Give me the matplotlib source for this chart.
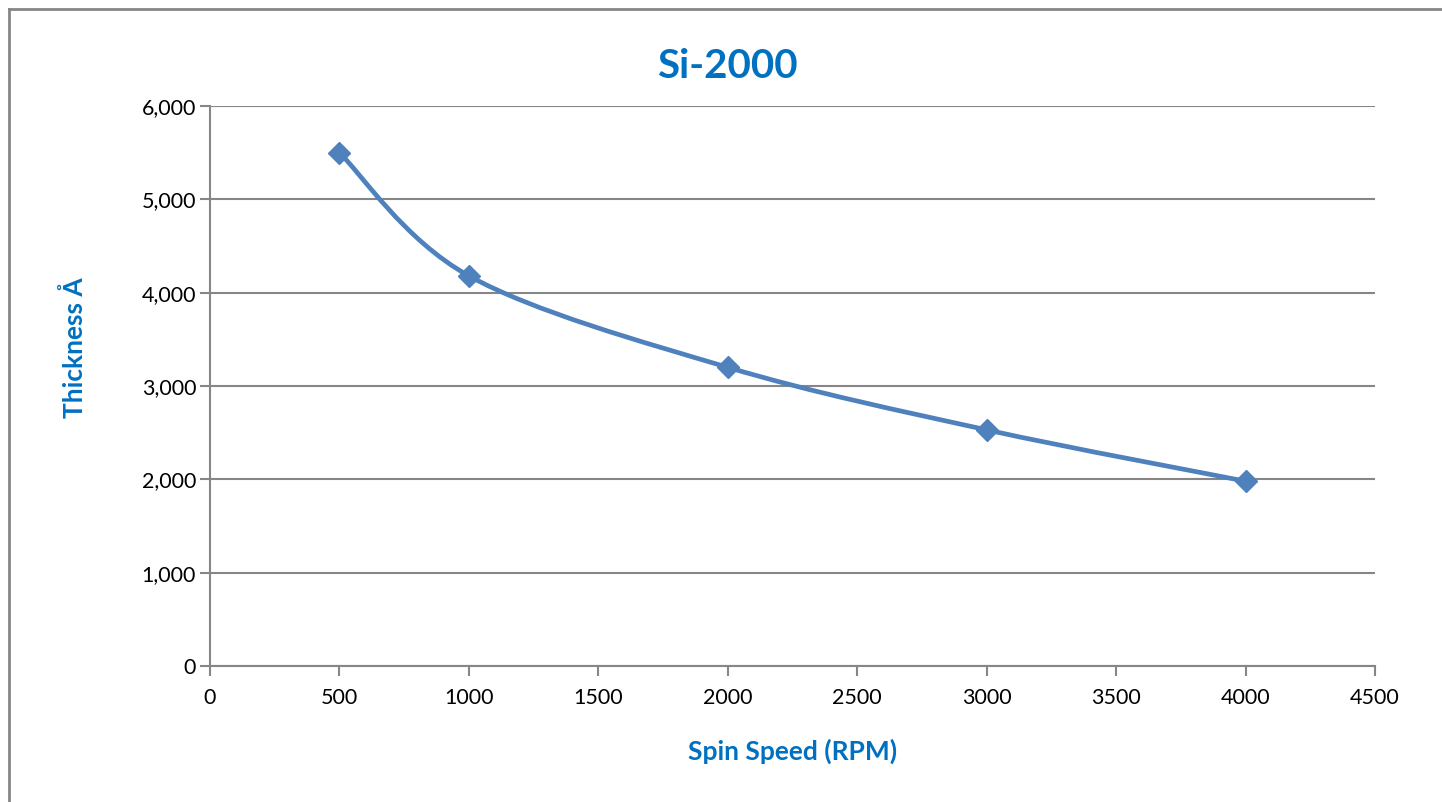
import matplotlib.pyplot as plt
from matplotlib.path import Path
from matplotlib.patches import PathPatch
from matplotlib.lines import Line2D
from matplotlib.ticker import FuncFormatter

spin_rpm = [500, 1000, 2000, 3000, 4000]
thickness = [5500, 4180, 3200, 2530, 1980]

x_ticks = [0, 500, 1000, 1500, 2000, 2500, 3000, 3500, 4000, 4500]
y_ticks = [0, 1000, 2000, 3000, 4000, 5000, 6000]

BLUE = "#4F81BD"
TEXT_BLUE = "#0070C0"
GRID = "#868686"

plt.rcParams["font.family"] = ["Lato", "DejaVu Sans"]


def smooth_path(xs, ys):
    # Excel-style smoothed line: cubic Bezier through the points
    pts = list(zip(xs, ys))
    n = len(pts)
    verts = [pts[0]]
    codes = [Path.MOVETO]
    for i in range(n - 1):
        p0 = pts[max(i - 1, 0)]
        p1 = pts[i]
        p2 = pts[i + 1]
        p3 = pts[min(i + 2, n - 1)]
        c1 = (p1[0] + (p2[0] - p0[0]) / 6, p1[1] + (p2[1] - p0[1]) / 6)
        c2 = (p2[0] - (p3[0] - p1[0]) / 6, p2[1] - (p3[1] - p1[1]) / 6)
        verts += [c1, c2, p2]
        codes += [Path.CURVE4] * 3
    return Path(verts, codes)


W, H = 1442, 802
fig = plt.figure(figsize=(W / 100, H / 100), dpi=100)
ax = fig.add_axes([210 / W, 1 - 666 / H, 1165 / W, 560 / H])

ax.add_patch(PathPatch(smooth_path(spin_rpm, thickness), facecolor="none",
                       edgecolor=BLUE, lw=3.4, capstyle="round", zorder=3))
ax.plot(spin_rpm, thickness, linestyle="none", marker="D", markersize=11,
        color=BLUE, zorder=4)

ax.set_xlim(0, 4500)
ax.set_ylim(0, 6000)
ax.set_xticks(x_ticks)
ax.set_yticks(y_ticks)
ax.yaxis.set_major_formatter(FuncFormatter(lambda v, p: f"{int(v):,}"))
ax.grid(axis="y", color=GRID, lw=1.5)
ax.set_axisbelow(True)

for s in ["top", "right"]:
    ax.spines[s].set_visible(False)
for s in ["left", "bottom"]:
    ax.spines[s].set_color(GRID)
    ax.spines[s].set_linewidth(1.5)
ax.tick_params(colors=GRID, labelcolor="black", labelsize=15.5, length=7, width=1.5)
ax.tick_params(axis="y", pad=3)
ax.tick_params(axis="x", pad=9)

fig.text(727 / W, 1 - 67 / H, "Si-2000", fontsize=29, fontweight="bold",
         color=TEXT_BLUE, ha="center", va="center")
ax.set_xlabel("Spin Speed (RPM)", fontsize=19, fontweight="bold", color=TEXT_BLUE, labelpad=22)
fig.text(75 / W, 1 - 348 / H, "Thickness Å", fontsize=19, fontweight="bold",
         color=TEXT_BLUE, rotation=90, ha="center", va="center")

# chart frame
fig.add_artist(Line2D([8.5 / W, 8.5 / W], [0, 1 - 8.5 / H], color=GRID, lw=2))
fig.add_artist(Line2D([8.5 / W, 1], [1 - 8.5 / H, 1 - 8.5 / H], color=GRID, lw=2))

fig.savefig("out.png", dpi=100, facecolor="white")
